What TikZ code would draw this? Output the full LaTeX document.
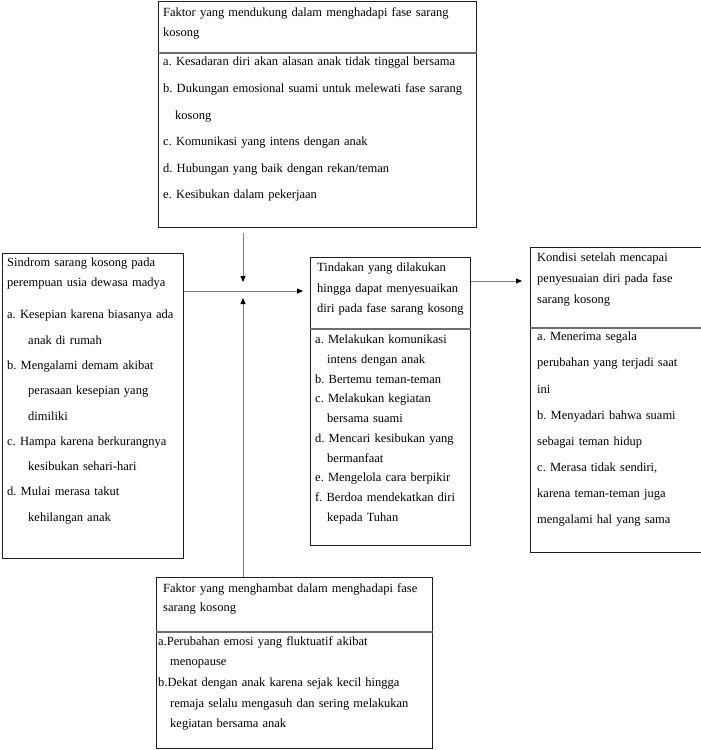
\documentclass[tikz,border=0pt]{standalone}
\usepackage{fontspec}
\setmainfont{Liberation Serif}
\usepackage{tikz}
\usetikzlibrary{calc, positioning, arrows.meta}
\usepackage{xcolor}

\definecolor{frameDark}{HTML}{1E1E1E}
\definecolor{ruleGray}{HTML}{6E6E6E}
\definecolor{flowGray}{HTML}{808080}
\newcommand{\setlead}[1]{\fontsize{12.5}{#1}\selectfont\frenchspacing}

\tikzset{
  panel/.style={draw=frameDark, line width=1pt, anchor=north west, inner sep=0pt},
  caption/.style={anchor=north west, inner sep=0pt, align=left, text width=#1},
  flow/.style={draw=flowGray, line width=0.8pt, -{Triangle[length=6pt,width=5pt,color=black]}},
}

\begin{document}
\begin{tikzpicture}[x=1pt, y=-1pt]
  \useasboundingbox (0,0) rectangle (701,750);

  % boxes
  \node[panel, minimum width=318pt, minimum height=51pt] (tophead) at (158,1) {};
  \node[panel, minimum width=318pt, minimum height=175pt] (topbody) at (158,52) {};
  \node[panel, minimum width=181pt, minimum height=305pt] (leftbox) at (2,253) {};
  \node[panel, minimum width=160pt, minimum height=71pt] (midhead) at (310,257) {};
  \node[panel, minimum width=160pt, minimum height=217pt] (midbody) at (310,328) {};
  \node[panel, minimum width=180pt, minimum height=80pt] (righthead) at (530,247) {};
  \node[panel, minimum width=180pt, minimum height=225pt] (rightbody) at (530,327) {};
  \node[panel, minimum width=276pt, minimum height=54pt] (bothead) at (156,577) {};
  \node[panel, minimum width=276pt, minimum height=117pt] (botbody) at (156,631) {};

  % dividers
  \foreach \b in {tophead, midhead, righthead, bothead}
    \draw[ruleGray, line width=1.4pt] (\b.south west) -- (\b.south east);

  % texts
  \node[caption=330pt, font=\setlead{20}] (tophead-t) at (163,7)
    {Faktor yang mendukung dalam menghadapi fase sarang\\kosong};
  \node[caption=330pt, font=\setlead{26.6}] (topbody-t) at (163,57)
    {a. Kesadaran diri akan alasan anak tidak tinggal bersama\\
     b. Dukungan emosional suami untuk melewati fase sarang\\
     \hspace*{12pt}kosong\\
     c. Komunikasi yang intens dengan anak\\
     d. Hubungan yang baik dengan rekan/teman\\
     e. Kesibukan dalam pekerjaan};

  \node[caption=190pt, font=\setlead{20}] (lefthead-t) at (7,258)
    {Sindrom sarang kosong pada\\perempuan usia dewasa madya};
  \node[caption=190pt, font=\setlead{25.3}] (leftbody-t) at (7,310)
    {a. Kesepian karena biasanya ada\\
     \hspace*{21pt}anak di rumah\\
     b. Mengalami demam akibat\\
     \hspace*{21pt}perasaan kesepian yang\\
     \hspace*{21pt}dimiliki\\
     c. Hampa karena berkurangnya\\
     \hspace*{21pt}kesibukan sehari-hari\\
     d. Mulai merasa takut\\
     \hspace*{21pt}kehilangan anak};

  \node[caption=170pt, font=\setlead{20.5}] (midhead-t) at (317,263)
    {Tindakan yang dilakukan\\hingga dapat menyesuaikan\\diri pada fase sarang kosong};
  \node[caption=170pt, font=\setlead{19.7}] (midbody-t) at (315,335)
    {a. Melakukan komunikasi\\
     \hspace*{12pt}intens dengan anak\\
     b. Bertemu teman-teman\\
     c. Melakukan kegiatan\\
     \hspace*{12pt}bersama suami\\
     d. Mencari kesibukan yang\\
     \hspace*{12pt}bermanfaat\\
     e. Mengelola cara berpikir\\
     f. Berdoa mendekatkan diri\\
     \hspace*{12pt}kepada Tuhan};

  \node[caption=170pt, font=\setlead{21}] (righthead-t) at (537,253)
    {Kondisi setelah mencapai\\penyesuaian diri pada fase\\sarang kosong};
  \node[caption=170pt, font=\setlead{26.1}] (rightbody-t) at (537,332)
    {a. Menerima segala\\
     perubahan yang terjadi saat\\
     ini\\
     b. Menyadari bahwa suami\\
     sebagai teman hidup\\
     c. Merasa tidak sendiri,\\
     karena teman-teman juga\\
     mengalami hal yang sama};

  \node[caption=290pt, font=\setlead{19.5}] (bothead-t) at (163,583)
    {Faktor yang menghambat dalam menghadapi fase\\sarang kosong};
  \node[caption=290pt, font=\setlead{20.7}] (botbody-t) at (158,636)
    {a.Perubahan emosi yang fluktuatif akibat\\
     \hspace*{12pt}menopause\\
     b.Dekat dengan anak karena sejak kecil hingga\\
     \hspace*{12pt}remaja selalu mengasuh dan sering melakukan\\
     \hspace*{12pt}kegiatan bersama anak};

  % connectors
  \coordinate (hub) at (243,291);
  \coordinate (link) at (500,281);
  \draw[flow] ($(topbody.south -| hub)+(0,5)$) -- ($(hub)+(0,-9)$);
  \draw[flow] (bothead.north -| hub) -- ($(hub)+(0,7)$);
  \draw[flow, shorten >=7pt] (leftbox.east |- hub) -- (midhead.west |- hub);
  \draw[flow, shorten >=8pt] (midhead.east |- link) -- (righthead.west |- link);
\end{tikzpicture}
\end{document}
